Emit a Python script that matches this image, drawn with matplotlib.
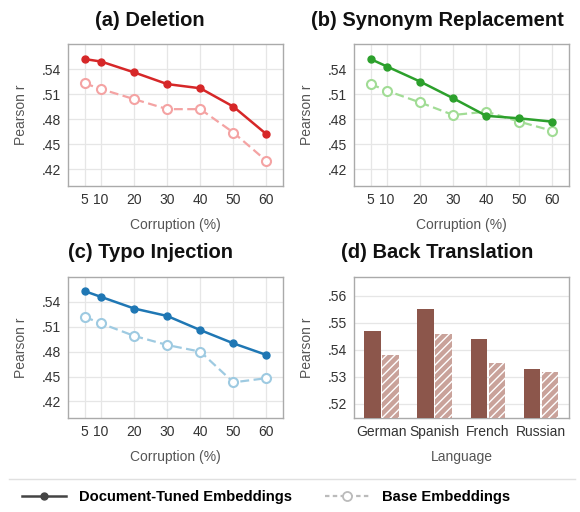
import matplotlib
matplotlib.use("Agg")
import matplotlib.pyplot as plt
from matplotlib.lines import Line2D
from matplotlib.ticker import FuncFormatter

plt.rcParams['font.family'] = ['Liberation Sans', 'DejaVu Sans']
plt.rcParams['hatch.color'] = 'white'
plt.rcParams['hatch.linewidth'] = 1.0

# corruption levels (%)
levels = [5, 10, 20, 30, 40, 50, 60]

# Pearson r, document-tuned vs base
deletion_tuned = [0.552, 0.549, 0.536, 0.522, 0.517, 0.495, 0.462]
deletion_base = [0.523, 0.516, 0.504, 0.492, 0.492, 0.464, 0.430]
synonym_tuned = [0.552, 0.543, 0.525, 0.505, 0.484, 0.481, 0.477]
synonym_base = [0.522, 0.514, 0.500, 0.485, 0.489, 0.477, 0.466]
typo_tuned = [0.553, 0.546, 0.532, 0.523, 0.506, 0.490, 0.476]
typo_base = [0.522, 0.514, 0.499, 0.488, 0.480, 0.443, 0.448]

languages = ['German', 'Spanish', 'French', 'Russian']
bt_tuned = [0.547, 0.555, 0.544, 0.533]
bt_base = [0.538, 0.546, 0.535, 0.532]

line_panels = [
    ('(a) Deletion', deletion_tuned, deletion_base, '#d62728', '#f4a3a3'),
    ('(b) Synonym Replacement', synonym_tuned, synonym_base, '#2ca02c', '#a1dc95'),
    ('(c) Typo Injection', typo_tuned, typo_base, '#1f77b4', '#9ecae1'),
]

W, H = 580, 512
fig = plt.figure(figsize=(W / 100, H / 100), dpi=100)


def px_axes(x0, y0, x1, y1):
    return fig.add_axes([x0 / W, 1 - y1 / H, (x1 - x0) / W, (y1 - y0) / H])


boxes = [(68, 44, 283, 186), (354, 44, 569, 186), (68, 277, 283, 418), (354, 277, 569, 418)]
title_pos = [(150, 20), (437, 20), (150, 252), (437, 252)]

nozero = FuncFormatter(lambda v, p: ('%.2f' % v).lstrip('0'))


def style(ax):
    for s in ax.spines.values():
        s.set_color('#aaaaaa')
        s.set_linewidth(1.0)
    ax.tick_params(length=0, labelsize=10, labelcolor='#333333', pad=5)
    ax.grid(True, color='#e6e6e6', linewidth=0.9)
    ax.set_axisbelow(True)
    ax.yaxis.set_major_formatter(nozero)
    ax.set_ylabel('Pearson r', fontsize=10, color='#555555', labelpad=10)


for i, (title, tuned, base, c_dark, c_light) in enumerate(line_panels):
    ax = px_axes(*boxes[i])
    ax.plot(levels, base, color=c_light, lw=1.6, ls=(0, (4, 2)), marker='o', ms=6.5,
            mfc='white', mec=c_light, mew=1.5, zorder=3)
    ax.plot(levels, tuned, color=c_dark, lw=1.8, marker='o', ms=5, mfc=c_dark,
            mec=c_dark, zorder=4)
    ax.set_xlim(0, 65)
    ax.set_ylim(0.40, 0.57)
    ax.set_xticks(levels)
    ax.set_xticklabels(['5', '10', '20', '30', '40', '50', '60'])
    ax.set_yticks([0.42, 0.45, 0.48, 0.51, 0.54])
    style(ax)
    ax.set_xlabel('Corruption (%)', fontsize=10, color='#555555', labelpad=8)
    fig.text(title_pos[i][0] / W, 1 - title_pos[i][1] / H, title, ha='center', va='center',
             fontsize=14.5, fontweight='bold', color='#111111')

# back translation bars
ax = px_axes(*boxes[3])
x = list(range(len(languages)))
bw = 0.31
ax.bar([v - bw / 2 - 0.015 for v in x], bt_tuned, width=bw, color='#8c564b', zorder=3)
ax.bar([v + bw / 2 + 0.015 for v in x], bt_base, width=bw, color='#c9a29a', hatch='////',
       edgecolor='white', linewidth=0, zorder=3)
ax.set_xlim(-0.52, 3.53)
ax.set_ylim(0.5148, 0.567)
ax.set_xticks(x)
ax.set_xticklabels(languages)
ax.set_yticks([0.52, 0.53, 0.54, 0.55, 0.56])
style(ax)
ax.grid(False, axis='x')
ax.set_xlabel('Language', fontsize=10, color='#555555', labelpad=8)
fig.text(title_pos[3][0] / W, 1 - title_pos[3][1] / H, '(d) Back Translation', ha='center',
         va='center', fontsize=14.5, fontweight='bold', color='#111111')

# separator + shared legend
fig.add_artist(Line2D([9 / W, 575 / W], [1 - 479 / H, 1 - 479 / H], color='#e0e0e0', lw=1))
handles = [
    Line2D([], [], color='#444444', lw=1.8, marker='o', ms=5),
    Line2D([], [], color='#bbbbbb', lw=1.6, ls=(0, (2, 1.5)), marker='o', ms=6.5, mfc='white',
           mew=1.3),
]
fig.legend(handles, ['Document-Tuned Embeddings', 'Base Embeddings'], loc='center',
           bbox_to_anchor=(266 / W, 1 - 497 / H), ncol=2, frameon=False, handlelength=3,
           handletextpad=0.9, columnspacing=2.2, prop={'weight': 'bold', 'size': 10.6})

fig.savefig('out.png', dpi=100)
